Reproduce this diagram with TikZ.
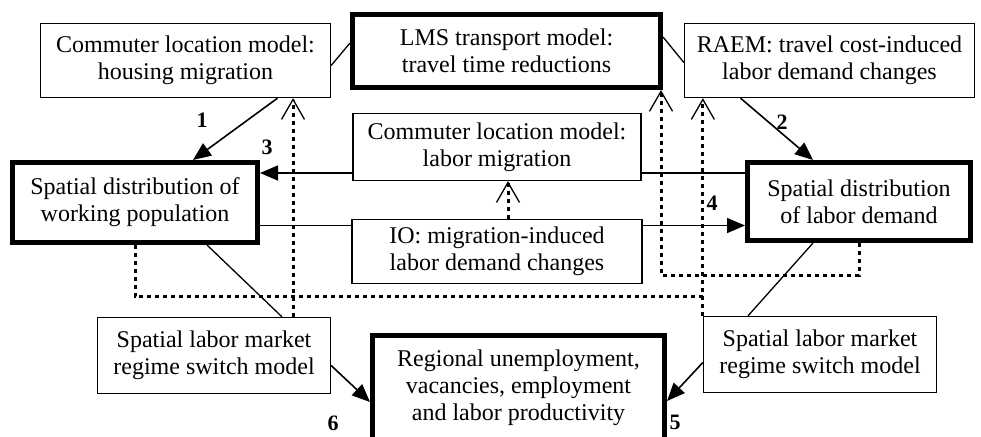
\documentclass[tikz,border=0pt]{standalone}
\usepackage{fontspec}
\setmainfont{Liberation Serif}
\usetikzlibrary{arrows.meta, calc}

\begin{document}
\begin{tikzpicture}[
    x=1pt, y=-1pt,
    box/.style={draw, line width=1.3pt, align=center, inner sep=0pt,
      font=\fontsize{24}{27}\selectfont},
    mainbox/.style={box, line width=5pt},
    num/.style={font=\fontsize{22}{22}\selectfont\bfseries},
    link/.style={line width=1.3pt},
    flow/.style={line width=1.6pt, -{Triangle[length=18pt,width=15pt]}},
    dotline/.style={line width=3pt, dash pattern=on 4pt off 4pt},
    dotarrow/.style={dotline,
      -{Straight Barb[length=20pt,width=23pt,line width=1.3pt]}}
  ]
  \useasboundingbox (0,0) rectangle (981,436);

  % boxes
  \node[box, minimum width=290pt, minimum height=74pt] (house) at (185.5,60.5)
    {Commuter location model:\\housing migration};
  \node[mainbox, minimum width=308pt, minimum height=73pt] (lms) at (506.5,51)
    {LMS transport model:\\travel time reductions};
  \node[box, minimum width=290pt, minimum height=74pt] (raem) at (829.5,60.5)
    {RAEM: travel cost-induced\\labor demand changes};
  \node[box, minimum width=288pt, minimum height=67pt] (labmig) at (497,147)
    {Commuter location model:\\labor migration};
  \node[box, minimum width=290pt, minimum height=64pt] (io) at (497,251.5)
    {IO: migration-induced\\labor demand changes};
  \node[mainbox, minimum width=245pt, minimum height=80pt] (workpop) at (135,202.5)
    {Spatial distribution of\\working population};
  \node[mainbox, minimum width=223pt, minimum height=78pt] (labdem) at (859,201.5)
    {Spatial distribution\\of labor demand};
  \node[box, minimum width=233pt, minimum height=76pt] (slmL) at (214,355.5)
    {Spatial labor market\\regime switch model};
  \node[box, minimum width=233pt, minimum height=76pt] (slmR) at (820,354.5)
    {Spatial labor market\\regime switch model};
  \node[mainbox, minimum width=292pt, minimum height=105pt] (regional) at (518.5,388)
    {Regional unemployment,\\vacancies, employment\\and labor productivity};

  % solid links
  \draw[link] ([yshift=-5pt]house.east) -- ([yshift=8pt]lms.west);
  \draw[link] ([yshift=14pt]lms.east) -- ([yshift=-2pt]raem.west);
  \draw[flow] ([xshift=92pt]house.south) -- ([xshift=58pt]workpop.north);
  \draw[flow] ([xshift=-89pt]raem.south) -- ([xshift=-46pt]labdem.north);
  \draw[link] ([yshift=-26pt]labmig.east) -- ([yshift=-26pt]labmig.east -| labdem.west);
  \draw[flow] ([yshift=-26pt]labmig.west) -- ([yshift=-26pt]labmig.west -| workpop.east);
  \draw[link] ([yshift=26pt]io.west) -- ([yshift=26pt]io.west -| workpop.east);
  \draw[flow] ([yshift=26pt]io.east) -- ([yshift=26pt]io.east -| labdem.west);
  \draw[link] ([xshift=72pt]workpop.south) -- ([xshift=68pt]slmL.north);
  \draw[link] ([xshift=-46pt]labdem.south) -- ([xshift=-72pt]slmR.north);
  \draw[flow] ([yshift=-10pt]slmL.east) -- ([yshift=-14pt]regional.west);
  \draw[flow] ([yshift=-8pt]slmR.west) -- ([yshift=-13pt]regional.east);

  % dotted feedback
  \draw[dotarrow] ([xshift=11pt]io.north) -- ([xshift=11pt]labmig.south);
  \draw[dotarrow] ([xshift=79pt]slmL.north) -- ([xshift=79pt]slmL.north |- house.south);
  \draw[dotarrow] (slmR.north west) -- (slmR.north west |- raem.south);
  \draw[dotline] (workpop.south) |- ($(slmR.north west)+(0,-19)$);
  \draw[dotarrow] (labdem.south) -- ++(0,32) -| ([xshift=-2pt]lms.south east);

  % numbers
  \node[num] (n1) at (202,120) {1};
  \node[num] (n2) at (782,122) {2};
  \node[num] (n3) at (267,147) {3};
  \node[num] (n4) at (712,203) {4};
  \node[num] (n5) at (675,422) {5};
  \node[num] (n6) at (333,423) {6};
\end{tikzpicture}
\end{document}
